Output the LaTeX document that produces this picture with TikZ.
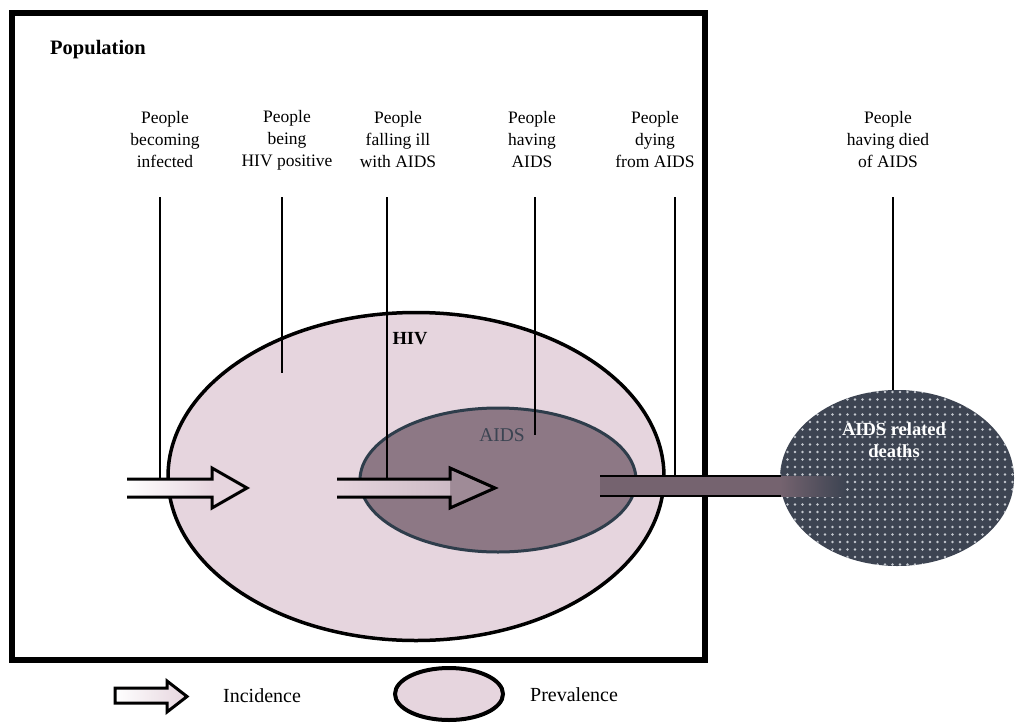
\documentclass[tikz,border=0pt]{standalone}
\usepackage{fontspec}
\setmainfont{Liberation Serif}
\usetikzlibrary{shapes.geometric,patterns.meta}

\definecolor{hivpink}{HTML}{E6D5DE}
\definecolor{aidsmauve}{HTML}{8D7885}
\definecolor{aidsline}{HTML}{2E3D4B}
\definecolor{aidstext}{HTML}{3B4452}
\definecolor{deathsfill}{HTML}{3D4452}
\definecolor{dotcol}{HTML}{C4C8CF}
\definecolor{barcol}{HTML}{75636F}
\definecolor{shaftpink}{HTML}{D8C6D0}

\begin{document}
\begin{tikzpicture}[x=1pt,y=-1pt,
  lab/.style={align=center, inner sep=0pt, font=\fontsize{17.5}{22}\selectfont},
  legendtext/.style={inner sep=0pt, anchor=west, font=\fontsize{20}{22}\selectfont},
  pointer/.style={line width=1.3pt},
  blockarrow/.style={line width=3pt, line join=miter},
]
\useasboundingbox (0,0) rectangle (1016,722);
\fill[white] (0,0) rectangle (1016,722);

% population frame
\node[draw, line width=6pt, minimum width=693pt, minimum height=647pt, inner sep=0pt] (pop) at (358.5,336.5) {};
\node[anchor=west, inner sep=0pt, font=\bfseries\fontsize{20.5}{22}\selectfont] (poplabel) at (50,50) {Population};

% prevalence ellipses
\node[ellipse, draw, line width=3.5pt, fill=hivpink, minimum width=496pt, minimum height=328pt, inner sep=0pt] (hiv) at (416,476.5) {};
\node[ellipse, draw=aidsline, line width=3pt, fill=aidsmauve, minimum width=276pt, minimum height=144pt, inner sep=0pt] (aids) at (498,480) {};
\node[ellipse, preaction={fill=deathsfill}, pattern={Dots[distance=7.5pt, radius=1.3pt]}, pattern color=dotcol, minimum width=234pt, minimum height=176pt, inner sep=0pt] (deaths) at (897,478) {};

% incidence arrow: new infections
\fill[hivpink] (127,479) -- (212,479) -- (212,468) -- (247,488) -- (212,508) -- (212,497) -- (127,497) -- cycle;
\shade[left color=white, right color=hivpink] (127,479) rectangle (212,497);
\draw[blockarrow] (127,479) -- (212,479) -- (212,468) -- (247,488) -- (212,508) -- (212,497) -- (127,497);

% incidence arrow: new AIDS cases
\fill[aidsmauve!80!hivpink] (337,479) -- (450,479) -- (450,468) -- (495,488) -- (450,508) -- (450,497) -- (337,497) -- cycle;
\shade[left color=hivpink, right color=shaftpink!85!aidsmauve] (337,479) rectangle (450,497);
\draw[blockarrow] (337,479) -- (450,479) -- (450,468) -- (495,488) -- (450,508) -- (450,497) -- (337,497);

% flow into AIDS related deaths
\fill[barcol] (600,476) rectangle (782,496);
\shade[left color=barcol, right color=deathsfill] (780,476) rectangle (845,496);
\draw[line width=2.2pt] (600,476) -- (781,476) (600,496) -- (781,496);

% labels and their pointers
\node[lab] (lab1) at (165,140) {People\\becoming\\infected};
\node[lab] (lab2) at (287,140) {People\\being\\HIV positive};
\node[lab] (lab3) at (398,140) {People\\falling ill\\with AIDS};
\node[lab] (lab4) at (532,140) {People\\having\\AIDS};
\node[lab] (lab5) at (655,140) {People\\dying\\from AIDS};
\node[lab] (lab6) at (888,140) {People\\having died\\of AIDS};

\coordinate (p1t) at (160,197); \coordinate (p1b) at (160,479);
\coordinate (p2t) at (282,197); \coordinate (p2b) at (282,373);
\coordinate (p3t) at (387,197); \coordinate (p3b) at (387,479);
\coordinate (p4t) at (535,197); \coordinate (p4b) at (535,435);
\coordinate (p5t) at (675,197); \coordinate (p5b) at (675,476);
\coordinate (p6t) at (893,197); \coordinate (p6b) at (893,390);
\foreach \i in {1,...,6} \draw[pointer] (p\i t) -- (p\i b);

% ellipse captions
\node[inner sep=0pt, font=\bfseries\fontsize{18.5}{22}\selectfont] (hivlabel) at (410,339) {HIV};
\node[inner sep=0pt, text=aidstext, font=\fontsize{19.5}{22}\selectfont] (aidslabel) at (502,435) {AIDS};
\node[inner sep=0pt, align=center, text=white, font=\bfseries\fontsize{18.5}{22}\selectfont] (deathslabel) at (894,440) {AIDS related\\deaths};

% legend
\fill[left color=white, right color=hivpink] (115,688) -- (167,688) -- (167,681) -- (187,696.5) -- (167,712) -- (167,703) -- (115,703) -- cycle;
\draw[blockarrow] (115,688) -- (167,688) -- (167,681) -- (187,696.5) -- (167,712) -- (167,703) -- (115,703) -- cycle;
\node[legendtext] (inc) at (223,696) {Incidence};
\node[ellipse, draw, line width=4pt, fill=hivpink, minimum width=108pt, minimum height=52pt, inner sep=0pt] (legell) at (449,694) {};
\node[legendtext] (prev) at (530,695) {Prevalence};
\end{tikzpicture}
\end{document}
